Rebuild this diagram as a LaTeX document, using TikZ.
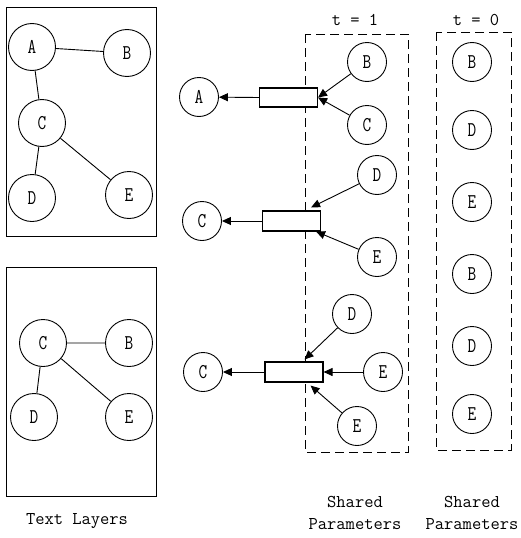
\documentclass[tikz,border=0pt]{standalone}
\usepackage{fontspec}
\newfontfamily\letterfont[FakeStretch=0.8]{Latin Modern Mono}
\usetikzlibrary{calc}
\usetikzlibrary{arrows.meta}

\tikzset{
  bignode/.style={circle, draw, line width=0.9pt, minimum size=47pt, inner sep=0pt,
    font=\letterfont\fontsize{21}{21}\selectfont},
  smallnode/.style={bignode, minimum size=39pt},
  aggbox/.style={rectangle, draw, fill=white, line width=1.1pt, minimum width=58pt,
    minimum height=19pt, inner sep=0pt},
  flow/.style={-{Triangle[length=9pt,width=8pt]}, line width=0.9pt},
  dashbox/.style={draw, dash pattern=on 9pt off 5pt, line width=0.9pt},
  caption/.style={font=\ttfamily\fontsize{18}{22}\selectfont, align=center},
}

\begin{document}
\begin{tikzpicture}[x=1pt, y=-1pt]
        \useasboundingbox (0,0) rectangle (520,538);
        % text layers
        \draw [line width=1pt] (6,7) rectangle (156,236);
        \node [bignode] (ta) at (32,47) {A};
        \node [bignode] (tb) at (127,53) {B};
        \node [bignode] (tc) at (42,123) {C};
        \node [bignode] (td) at (32,198) {D};
        \node [bignode] (te) at (129,195) {E};
        \draw [line width=0.9pt] (ta) -- (tb) (ta) -- (tc) (tc) -- (td) (tc) -- (te);
        \draw [line width=1pt] (6,267) rectangle (156,496);
        \node [bignode] (bc) at (43,343) {C};
        \node [bignode] (bb) at (129,343) {B};
        \node [bignode] (bd) at (34,417) {D};
        \node [bignode] (be) at (129,417) {E};
        \draw [line width=0.9pt] (bc) -- (bb) (bc) -- (bd) (bc) -- (be);
        \node [caption] (tlcap) at (77,521) {Text Layers};
        % shared parameters
        \draw [dashbox] (305,34) rectangle (408,452);
        \draw [dashbox] (436,32) rectangle (511,450);
        \node [caption] (tone) at (355,20) {t = 1};
        \node [caption] (tzero) at (476,20) {t = 0};
        \node [caption] (spone) at (355,513) {Shared\\Parameters};
        \node [caption] (spzero) at (472,513) {Shared\\Parameters};
        \foreach \n/\y/\t in {pb1/62/B, pd1/130/D, pe1/202/E, pb2/274/B, pd2/346/D, pe2/414/E} {
            \node [smallnode] (\n) at (472,\y) {\t};
        }
        % row 1
        \node [smallnode] (outa) at (199,97) {A};
        \node [aggbox] (agg1) at (288.5,97.5) {};
        \node [smallnode] (inb1) at (367,62) {B};
        \node [smallnode] (inc1) at (367,125) {C};
        \draw [flow] (agg1.west) -- (outa);
        \draw [flow] (inb1) -- (agg1.east);
        \draw [flow] (inc1) -- (agg1.east);
        % row 2
        \node [smallnode] (outc2) at (202,221) {C};
        \node [aggbox, minimum height=20pt] (agg2) at (291.5,221) {};
        \node [smallnode] (ind2) at (377,175) {D};
        \node [smallnode] (ine2) at (377,257) {E};
        \draw [flow] (agg2.west) -- (outc2);
        \draw [flow] (ind2) -- ([xshift=-10pt, yshift=3pt]agg2.north east);
        \draw [flow] (ine2) -- ([xshift=-5pt]agg2.south east);
        % row 3
        \node [smallnode] (outc3) at (203,372) {C};
        \node [aggbox, minimum height=20pt] (agg3) at (294,372) {};
        \node [smallnode] (ind3) at (352,314) {D};
        \node [smallnode] (ine3) at (383,372) {E};
        \node [smallnode] (inf3) at (357,426) {E};
        \draw [flow] (agg3.west) -- (outc3);
        \draw [flow] (ind3) -- ([xshift=-19pt, yshift=2pt]agg3.north east);
        \draw [flow] (ine3) -- (agg3.east);
        \draw [flow] (inf3) -- ([xshift=-13pt, yshift=-3pt]agg3.south east);
\end{tikzpicture}
\end{document}
